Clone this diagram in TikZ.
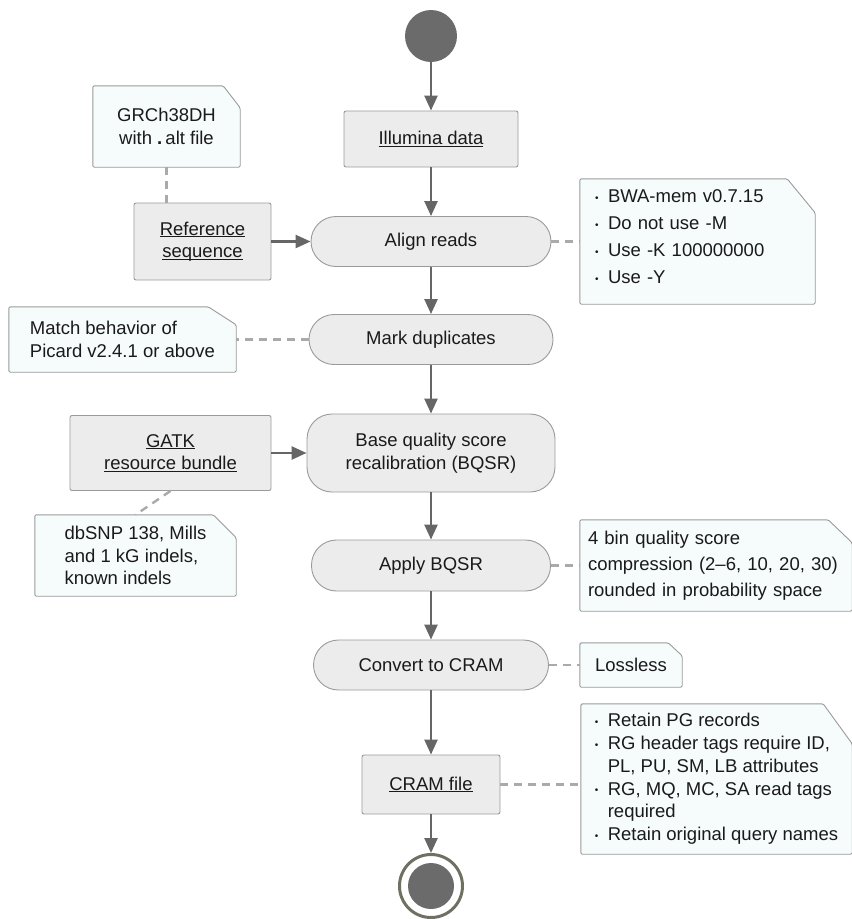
\documentclass[tikz,border=0pt]{standalone}
\usepackage{fontspec}
\setmainfont{Liberation Sans}
\usetikzlibrary{arrows.meta}
\pgfdeclarelayer{bg}
\pgfsetlayers{bg,main}
\definecolor{boxfill}{HTML}{ECECEC}
\definecolor{boxline}{HTML}{9A9A9A}
\definecolor{notefill}{HTML}{F6FBFC}
\definecolor{arrowc}{HTML}{666666}
\definecolor{dashc}{HTML}{AAAAAA}
\definecolor{dotc}{HTML}{6B6B6B}
\definecolor{ringc}{HTML}{707062}
\definecolor{txt}{HTML}{1A1A1A}
\newcommand\ulbox[1]{\setbox0\hbox{#1}\rlap{\rule[-2.3pt]{\wd0}{1.1pt}}\box0}
\newcommand\bul{\makebox[13pt][l]{\raisebox{1.2pt}{\fontsize{10}{10}\selectfont •}}}
\newcommand\ind{\hspace*{13pt}}
\newcommand\notebox[3]{%
  \begin{pgfonlayer}{bg}
  \draw[draw=boxline, fill=notefill, line width=0.9pt, rounded corners=1.5pt]
    (#1.south west) -- (#1.north west) -- ([xshift=-#2]#1.north east)
    -- ([yshift=-#3]#1.north east) -- (#1.south east) -- cycle;
  \end{pgfonlayer}}
\tikzset{
  proc/.style={draw=boxline, fill=boxfill, line width=0.9pt, rounded corners=2pt,
    text=txt, align=center, inner sep=0pt},
  pill/.style={proc, rounded corners=25pt},
  note/.style={draw=none, align=left, text=txt, inner sep=0pt},
  flow/.style={draw=arrowc, line width=2.5pt, -{Triangle[length=15pt,width=13pt]}},
  link/.style={draw=dashc, line width=2.4pt, dash pattern=on 8pt off 6pt},
}
\begin{document}
\begin{tikzpicture}[x=1pt, y=-1pt, font=\fontsize{18.5}{22.5}\selectfont]
\useasboundingbox (0,0) rectangle (852,919);

% flow nodes
\node[circle, fill=dotc, minimum size=52pt, inner sep=0pt] (start) at (431,36) {};
\node[proc, minimum width=174pt, minimum height=56pt] (illumina) at (431,139) {\ulbox{Illumina data}};
\node[pill, minimum width=240pt, minimum height=50pt] (align) at (431,241.5) {Align reads};
\node[proc, minimum width=137pt, minimum height=77pt] (ref) at (202.5,241.5) {\ulbox{Reference}\\\ulbox{sequence}};
\node[pill, minimum width=244pt, minimum height=50pt] (mark) at (431,339.5) {Mark duplicates};
\node[pill, minimum width=248pt, minimum height=78pt] (bqsr) at (431,453) {Base quality score\\recalibration (BQSR)};
\node[proc, minimum width=201pt, minimum height=75pt] (gatk) at (170.5,453) {\ulbox{GATK}\\\ulbox{resource bundle}};
\node[pill, minimum width=239pt, minimum height=51pt] (apply) at (431,565.5) {Apply BQSR};
\node[pill, minimum width=235pt, minimum height=50pt] (convert) at (431,665) {Convert to CRAM};
\node[proc, minimum width=138pt, minimum height=59pt] (cram) at (431,784.5) {\ulbox{CRAM file}};
\node[circle, draw=ringc, line width=3pt, minimum size=63pt, inner sep=0pt] (end) at (431,886) {};
\node[circle, fill=dotc, minimum size=46pt, inner sep=0pt] (endin) at (431,886) {};

% notes
\node[note, align=center, minimum width=147pt, minimum height=81pt] (grch) at (166.5,126.5)
  {GRCh38DH\\with \textbf{.}\,alt file};
\notebox{grch}{17pt}{22pt}
\node[note, minimum width=235pt, minimum height=125pt, text width=205pt,
  font=\fontsize{18.5}{27}\selectfont] (bwa) at (697.5,241.5)
  {\bul BWA-mem v0.7.15\\\bul Do not use -M\\\bul Use -K 100000000\\\bul Use -Y\rule[-10pt]{0pt}{10pt}};
\notebox{bwa}{28pt}{34pt}
\node[note, minimum width=227pt, minimum height=65pt] (match) at (122.5,339.5)
  {Match behavior of\\Picard v2.4.1 or above};
\notebox{match}{28pt}{18pt}
\node[note, minimum width=201pt, minimum height=81pt] (dbsnp) at (135.5,555.5)
  {dbSNP 138, Mills\\and 1 kG indels,\\known indels};
\notebox{dbsnp}{23pt}{23pt}
\node[note, minimum width=272pt, minimum height=91pt, text width=256pt,
  font=\fontsize{18.5}{26}\selectfont] (fourbin) at (716,565.5)
  {4 bin quality score\\compression (2–6, 10, 20, 30)\\rounded in probability space};
\notebox{fourbin}{24pt}{23pt}
\node[note, minimum width=102pt, minimum height=44pt] (lossless) at (631,665) {Lossless};
\notebox{lossless}{14pt}{13pt}
\node[note, minimum width=271pt, minimum height=150pt,
  font=\fontsize{18.5}{22.8}\selectfont] (retain) at (716.5,779)
  {\bul Retain PG records\\\bul RG header tags require ID,\\\ind PL, PU, SM, LB attributes\\\bul RG, MQ, MC, SA read tags\\\ind required\\\bul Retain original query names};
\notebox{retain}{29pt}{40pt}

% flow connectors
\draw[flow] (start) -- (illumina);
\draw[flow] (illumina) -- (align);
\draw[flow] (ref) -- (align);
\draw[flow] (align) -- (mark);
\draw[flow] (mark) -- (bqsr);
\draw[flow] (gatk) -- (bqsr);
\draw[flow] (bqsr) -- (apply);
\draw[flow] (apply) -- (convert);
\draw[flow] (convert) -- (cram);
\draw[flow] (cram) -- (end);

% note links
\draw[link] (grch.south) -- (grch.south |- ref.north);
\draw[link] (align.east) -- (align.east -| bwa.west);
\draw[link] (mark.west) -- (mark.west -| match.east);
\draw[link] (gatk.south) -- (dbsnp.north);
\draw[link] (apply.east) -- (apply.east -| fourbin.west);
\draw[link] (convert.east) -- (convert.east -| lossless.west);
\draw[link] (cram.east) -- (cram.east -| retain.west);
\end{tikzpicture}
\end{document}
